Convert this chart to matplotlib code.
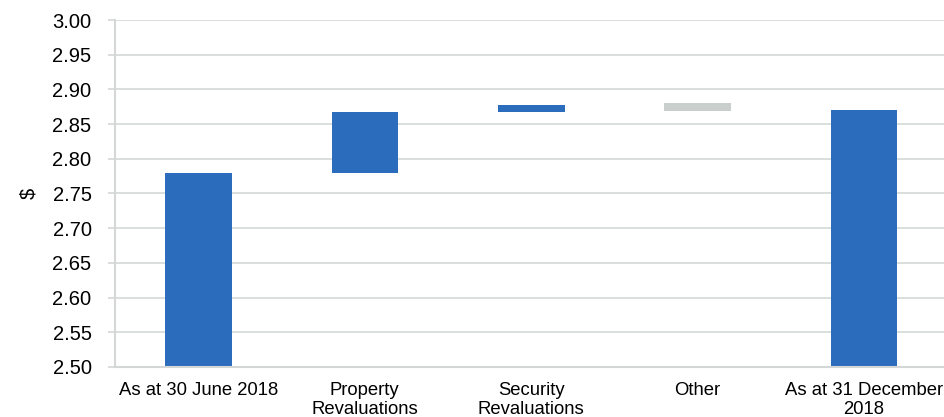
import matplotlib
matplotlib.use('Agg')
import matplotlib.pyplot as plt
import numpy as np

# NTA per security movement, half year to 31 December 2018
categories = ['As at 30 June 2018', 'Property\nRevaluations', 'Security\nRevaluations',
              'Other', 'As at 31 December\n2018']
bar_bottoms = [2.50, 2.780, 2.867, 2.869, 2.50]
bar_tops = [2.780, 2.867, 2.877, 2.880, 2.871]
bar_colors = ['#2b6cbd', '#2b6cbd', '#2b6cbd', '#c8cfcc', '#2b6cbd']

plt.rcParams['font.family'] = ['Liberation Sans', 'DejaVu Sans']

fig = plt.figure(figsize=(9.44, 4.17), dpi=100)
ax = fig.add_axes([0.122, 0.12, 0.8815, 0.832])

indices = np.arange(len(categories))
heights = np.array(bar_tops) - np.array(bar_bottoms)
ax.bar(indices, heights, 0.4, bottom=bar_bottoms, color=bar_colors, zorder=2)

grid_color = '#d3d8d6'
ax.set_ylim(2.50, 3.00)
ax.set_xlim(-0.5, 4.5)
ax.set_yticks(np.arange(2.50, 3.001, 0.05))
ax.set_yticklabels(['{0:.2f}'.format(v) for v in np.arange(2.50, 3.001, 0.05)])
ax.yaxis.grid(True, color=grid_color, linewidth=1.2, zorder=0)
ax.set_axisbelow(True)

ax.set_xticks(indices)
ax.set_xticklabels(categories, fontsize=13.3, linespacing=1.1)
ax.tick_params(axis='x', length=0, pad=11)
ax.tick_params(axis='y', length=5, width=1.2, color=grid_color, labelsize=14.5, pad=12)

for side in ['top', 'right']:
    ax.spines[side].set_visible(False)
for side in ['left', 'bottom']:
    ax.spines[side].set_color(grid_color)
    ax.spines[side].set_linewidth(1.5)
    ax.spines[side].set_zorder(3)

ax.set_ylabel('$', fontsize=14.5, labelpad=10)

fig.savefig('out.png', dpi=100)
